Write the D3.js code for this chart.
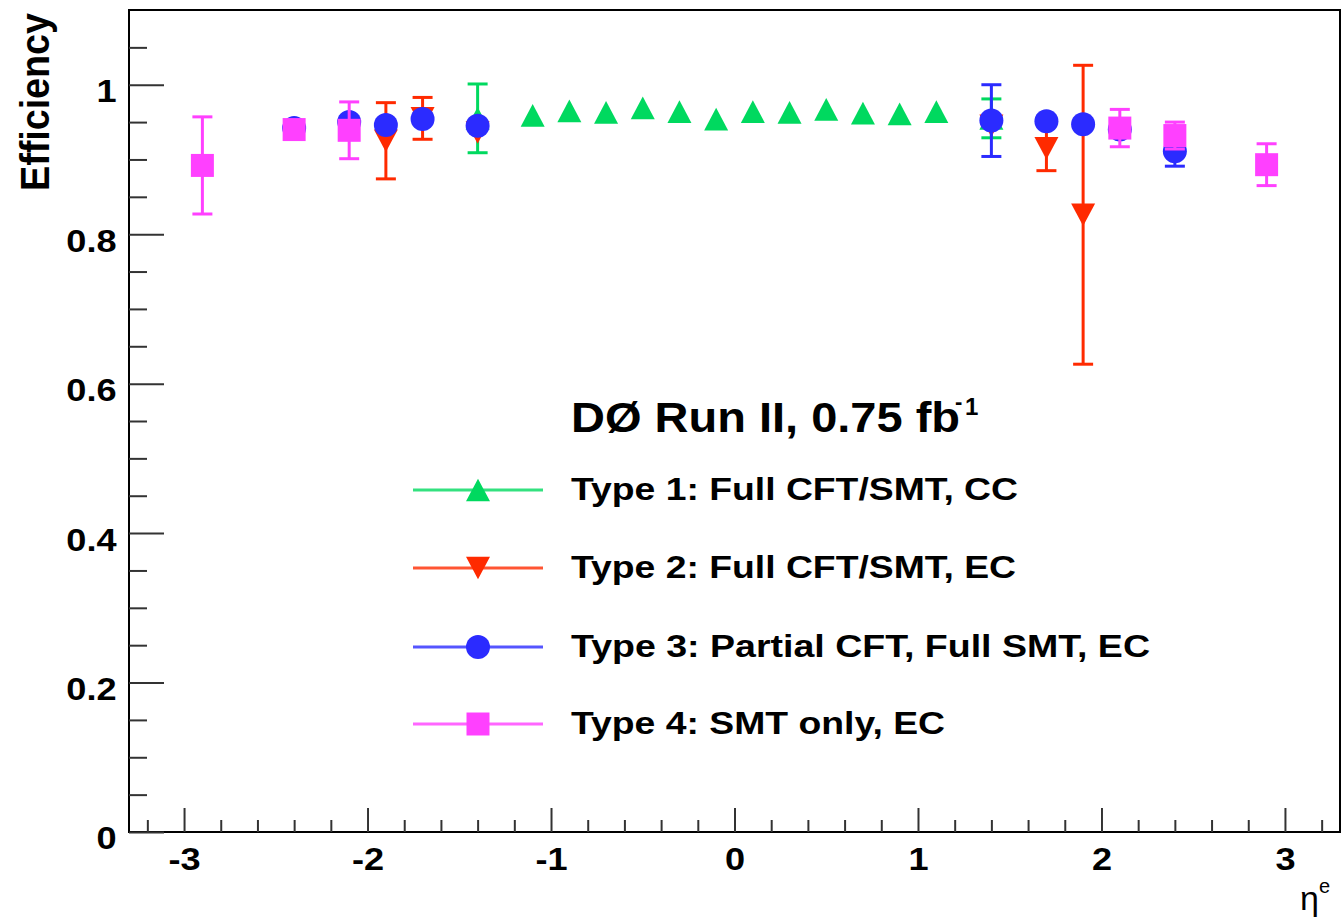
<!DOCTYPE html>
<html lang="en">
<head>
<meta charset="utf-8">
<title>Efficiency vs eta</title>
<script src="https://d3js.org/d3.v7.min.js"></script>
<style>
body { margin: 0; background: #fff; }
text { font-family: "Liberation Sans", Arial, Helvetica, sans-serif; font-weight: bold; fill: #000; }
.tick line { stroke: #333; stroke-width: 2; }
</style>
</head>
<body>
<div id="chart"></div>
<script>
var w = 1344, h = 920;

// values
var type1Eta = [-1.4, -1.1, -0.9, -0.7, -0.5, -0.3, -0.1, 0.1, 0.3, 0.5, 0.7, 0.9, 1.1, 1.4];
var type1Eff = [0.955, 0.959, 0.965, 0.963, 0.969, 0.964, 0.954, 0.964, 0.963, 0.967, 0.962, 0.961, 0.964, 0.955];
var type1Err = [0.046, 0.005, 0.005, 0.005, 0.005, 0.005, 0.005, 0.005, 0.005, 0.005, 0.005, 0.005, 0.005, 0.026];

var type2Eta = [-1.9, -1.7, -1.4, 1.4, 1.7, 1.9];
var type2Eff = [0.925, 0.955, 0.936, 0.945, 0.915, 0.826];
var type2Err = [0.051, 0.028, 0.010, 0.010, 0.030, 0.200];

var type3Eta = [-2.4, -2.1, -1.9, -1.7, -1.4, 1.4, 1.7, 1.9, 2.1, 2.4];
var type3Eff = [0.942, 0.950, 0.946, 0.954, 0.945, 0.952, 0.951, 0.947, 0.940, 0.911];
var type3Err = [0.005, 0.010, 0.010, 0.010, 0.010, 0.048, 0.008, 0.008, 0.012, 0.020];

var type4Eta = [-2.9, -2.4, -2.1, 2.1, 2.4, 2.9];
var type4Eff = [0.892, 0.940, 0.939, 0.942, 0.932, 0.893];
var type4Err = [0.065, 0.005, 0.038, 0.025, 0.018, 0.028];

var labels = ["Type 1: Full CFT/SMT, CC", "Type 2: Full CFT/SMT, EC",
              "Type 3: Partial CFT, Full SMT, EC", "Type 4: SMT only, EC"];
var labelWidths = [447, 445, 579, 374];

var xTicks = [-3, -2, -1, 0, 1, 2, 3];
var yTicks = [0, 0.2, 0.4, 0.6, 0.8, 1];

// marker shapes (ROOT style)
var triUp = { draw: function(ctx, size) {
  var s = Math.sqrt(size), hh = s * 0.47;
  ctx.moveTo(0, -hh); ctx.lineTo(s / 2, hh); ctx.lineTo(-s / 2, hh); ctx.closePath();
}};
var triDown = { draw: function(ctx, size) {
  var s = Math.sqrt(size), hh = s * 0.47;
  ctx.moveTo(0, hh); ctx.lineTo(s / 2, -hh); ctx.lineTo(-s / 2, -hh); ctx.closePath();
}};

var series = [
  { eta: type1Eta, eff: type1Eff, err: type1Err, color: "#00d95f", shape: triUp, size: 24 * 24 },
  { eta: type2Eta, eff: type2Eff, err: type2Err, color: "#ff2a00", shape: triDown, size: 24 * 24 },
  { eta: type3Eta, eff: type3Eff, err: type3Err, color: "#2b2bff", shape: d3.symbolCircle, size: Math.PI * 12 * 12 },
  { eta: type4Eta, eff: type4Eff, err: type4Err, color: "#ff40ff", shape: d3.symbolSquare, size: 23 * 23 }
];

var svg = d3.select("#chart").append("svg")
  .attr("width", w).attr("height", h);

var x = d3.scaleLinear().domain([-3.3, 3.3]).range([129, 1340]);
var y = d3.scaleLinear().domain([0, 1.1]).range([832, 10]);

// frame
svg.append("rect")
  .attr("x", x(-3.3)).attr("y", y(1.1))
  .attr("width", x(3.3) - x(-3.3)).attr("height", y(0) - y(1.1))
  .attr("fill", "none").attr("stroke", "#000").attr("stroke-width", 2);

// minor ticks
var xMinor = d3.range(-16, 17).map(function(i) { return i * 0.2; })
  .filter(function(v) { return Math.abs(v - Math.round(v)) > 1e-6; });
var yMinor = d3.range(0, 22).map(function(i) { return i * 0.05; })
  .filter(function(v) { return Math.abs(v * 5 - Math.round(v * 5)) > 1e-6; });

svg.append("g").attr("transform", "translate(0," + y(0) + ")")
  .call(d3.axisBottom(x).tickValues(xMinor).tickSize(-12).tickFormat(""))
  .call(function(g) { g.select(".domain").remove(); });
svg.append("g").attr("transform", "translate(" + x(-3.3) + ",0)")
  .call(d3.axisLeft(y).tickValues(yMinor).tickSize(-18).tickFormat(""))
  .call(function(g) { g.select(".domain").remove(); });

// major ticks + labels
var xAxis = svg.append("g").attr("transform", "translate(0," + y(0) + ")")
  .call(d3.axisBottom(x).tickValues(xTicks).tickSize(-24).tickPadding(15)
    .tickFormat(function(d) { return String(d); }));
xAxis.select(".domain").remove();
xAxis.selectAll("text").style("font-size", "32px").attr("transform", "scale(1.13,1)");

var yAxis = svg.append("g").attr("transform", "translate(" + x(-3.3) + ",0)")
  .call(d3.axisLeft(y).tickValues(yTicks).tickSize(-35).tickPadding(11)
    .tickFormat(function(d) { return String(d); }));
yAxis.select(".domain").remove();
yAxis.selectAll("text").style("font-size", "32px").attr("dy", "0.53em")
  .attr("transform", "scale(1.13,1)");

// axis titles
svg.append("text").text("Efficiency")
  .attr("transform", "translate(49,13) rotate(-90)")
  .attr("text-anchor", "end")
  .attr("textLength", 178).attr("lengthAdjust", "spacingAndGlyphs")
  .style("font-size", "40px");

svg.append("text").text("\u03b7")
  .attr("x", 1300).attr("y", 910)
  .style("font-weight", "normal").style("font-size", "34px");
svg.append("text").text("e")
  .attr("x", 1319).attr("y", 893)
  .style("font-weight", "normal").style("font-size", "20px");

// data: error bars shorter than the marker are not drawn, as in ROOT
series.forEach(function(s) {
  var g = svg.append("g");
  var pts = s.eta.map(function(e, i) { return { x: e, y: s.eff[i], err: s.err[i] }; });
  var withErr = pts.filter(function(d) { return y(d.y - d.err) - y(d.y) > 11; });
  g.selectAll("line.err").data(withErr).enter().append("line")
    .attr("x1", function(d) { return x(d.x); }).attr("x2", function(d) { return x(d.x); })
    .attr("y1", function(d) { return y(d.y - d.err); }).attr("y2", function(d) { return y(d.y + d.err); })
    .attr("stroke", s.color).attr("stroke-width", 3);
  [-1, 1].forEach(function(sg) {
    g.selectAll(null).data(withErr).enter().append("line")
      .attr("x1", function(d) { return x(d.x) - 10; }).attr("x2", function(d) { return x(d.x) + 10; })
      .attr("y1", function(d) { return y(d.y + sg * d.err); }).attr("y2", function(d) { return y(d.y + sg * d.err); })
      .attr("stroke", s.color).attr("stroke-width", 3);
  });
  g.selectAll("path").data(pts).enter().append("path")
    .attr("d", d3.symbol().type(s.shape).size(s.size))
    .attr("transform", function(d) { return "translate(" + x(d.x) + "," + y(d.y) + ")"; })
    .attr("fill", s.color);
});

// legend
var title = svg.append("g");
title.append("text").text("D\u00d8 Run II, 0.75 fb")
  .attr("x", 571).attr("y", 432)
  .attr("textLength", 389).attr("lengthAdjust", "spacingAndGlyphs")
  .style("font-size", "42px");
title.append("text").text("-").attr("x", 955).attr("y", 409).style("font-size", "22px");
title.append("text").text("1").attr("x", 965).attr("y", 415).style("font-size", "24px");

var rowY = [490, 568, 647, 724];
var leg = svg.append("g").selectAll("g").data(series).enter().append("g")
  .attr("transform", function(d, i) { return "translate(0," + rowY[i] + ")"; });
leg.append("line").attr("x1", 413).attr("x2", 543).attr("y1", 0).attr("y2", 0)
  .attr("stroke", function(d) { return d.color; }).attr("stroke-width", 3).attr("stroke-opacity", 0.8);
leg.append("path")
  .attr("d", function(d) { return d3.symbol().type(d.shape).size(d.size)(); })
  .attr("transform", "translate(478,0)")
  .attr("fill", function(d) { return d.color; });
leg.append("text").text(function(d, i) { return labels[i]; })
  .attr("x", 571).attr("y", 10)
  .attr("textLength", function(d, i) { return labelWidths[i]; }).attr("lengthAdjust", "spacingAndGlyphs")
  .style("font-size", "32px");
</script>
</body>
</html>
